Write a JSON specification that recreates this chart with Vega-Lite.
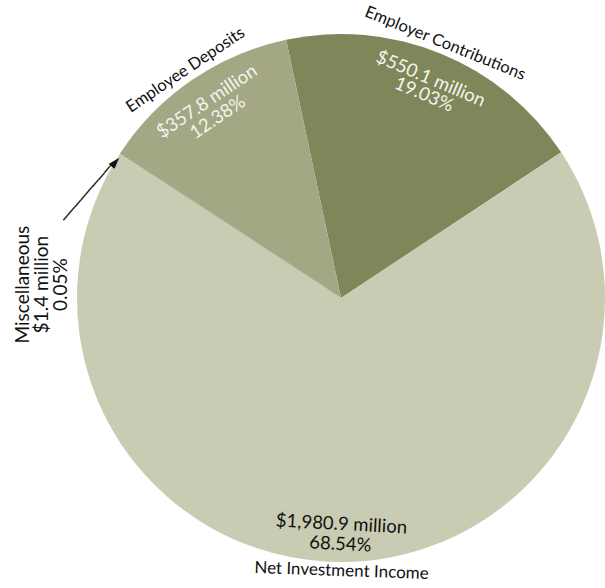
{
  "$schema": "https://vega.github.io/schema/vega-lite/v6.json",
  "autosize": "none",
  "width": 528,
  "height": 528,
  "padding": {"left": 77, "top": 34, "right": 0, "bottom": 26},
  "background": "white",
  "config": {"view": {"stroke": null}, "text": {"font": "Lato"}},
  "data": {"values": [
    {"category": "Employer Contributions", "amount": "$550.1 million", "pct": "19.03%", "value": 550.1, "order": 1},
    {"category": "Net Investment Income", "amount": "$1,980.9 million", "pct": "68.54%", "value": 1980.9, "order": 2},
    {"category": "Miscellaneous", "amount": "$1.4 million", "pct": "0.05%", "value": 1.4, "order": 3},
    {"category": "Employee Deposits", "amount": "$357.8 million", "pct": "12.38%", "value": 357.8, "order": 4}
  ]},
  "transform": [
    {"calculate": "datum.amount + '\\n' + datum.pct", "as": "valueLabel"},
    {"calculate": "datum.category + '\\n' + datum.amount + '\\n' + datum.pct", "as": "miscLabel"}
  ],
  "encoding": {
    "theta": {"field": "value", "type": "quantitative", "stack": true, "scale": {"range": [-0.2094, 6.0738]}},
    "order": {"field": "order", "type": "quantitative"}
  },
  "layer": [
    {
      "mark": {"type": "arc"},
      "encoding": {
        "color": {"field": "category", "type": "nominal", "legend": null,
          "scale": {"domain": ["Employer Contributions", "Net Investment Income", "Miscellaneous", "Employee Deposits"],
                    "range": ["#7f875a", "#c9cbb2", "#6f774b", "#a3a784"]}}
      }
    },
    {
      "mark": {"type": "text", "radius": 275, "angle": 22, "fontSize": 16.5, "color": "#111111"},
      "encoding": {"text": {"condition": {"test": "datum.category === 'Employer Contributions'", "field": "category", "type": "nominal"}, "value": ""}}
    },
    {
      "mark": {"type": "text", "radius": 237, "angle": 23, "fontSize": 18.5, "color": "#f4f4ee", "lineBreak": "\n", "lineHeight": 17},
      "encoding": {"text": {"condition": {"test": "datum.category === 'Employer Contributions'", "field": "valueLabel", "type": "nominal"}, "value": ""}}
    },
    {
      "mark": {"type": "text", "radius": 276, "angle": -34, "fontSize": 16.5, "color": "#111111"},
      "encoding": {"text": {"condition": {"test": "datum.category === 'Employee Deposits'", "field": "category", "type": "nominal"}, "value": ""}}
    },
    {
      "mark": {"type": "text", "radius": 238, "angle": -34, "fontSize": 18.5, "color": "#f4f4ee", "lineBreak": "\n", "lineHeight": 19},
      "encoding": {"text": {"condition": {"test": "datum.category === 'Employee Deposits'", "field": "valueLabel", "type": "nominal"}, "value": ""}}
    },
    {
      "mark": {"type": "text", "radius": 273, "angle": 2, "fontSize": 17, "color": "#111111"},
      "encoding": {"text": {"condition": {"test": "datum.category === 'Net Investment Income'", "field": "category", "type": "nominal"}, "value": ""}}
    },
    {
      "mark": {"type": "text", "radius": 226, "angle": 3, "fontSize": 18.5, "color": "#111111", "lineBreak": "\n", "lineHeight": 20},
      "encoding": {"text": {"condition": {"test": "datum.category === 'Net Investment Income'", "field": "valueLabel", "type": "nominal"}, "value": ""}}
    },
    {
      "mark": {"type": "text", "radius": 318, "thetaOffset": -0.54, "angle": -90, "fontSize": 19, "color": "#111111", "lineBreak": "\n", "lineHeight": 19},
      "encoding": {"text": {"condition": {"test": "datum.category === 'Miscellaneous'", "field": "miscLabel", "type": "nominal"}, "value": ""}}
    },
    {
      "mark": {"type": "text", "radius": 273, "thetaOffset": -0.17, "angle": -49, "fontSize": 15, "color": "#111111", "font": "DejaVu Sans"},
      "encoding": {"text": {"condition": {"test": "datum.category === 'Miscellaneous'", "value": "────────►"}, "value": ""}}
    }
  ]
}
